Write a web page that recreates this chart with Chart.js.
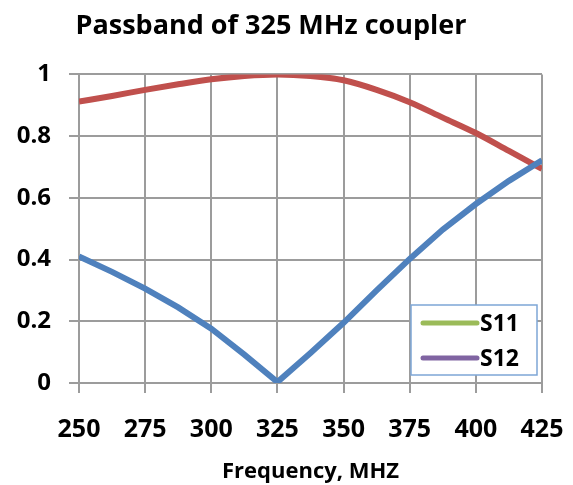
<!DOCTYPE html>
<html lang="en">
<head>
    <meta charset="UTF-8">
    <title>Passband of 325 MHz coupler</title>
    <script src="https://cdn.jsdelivr.net/npm/chart.js"></script>
    <style>
        body { margin: 0; background: #fff; }
        #wrap { width: 573px; height: 485px; }
    </style>
</head>
<body>
    <div id="wrap"><canvas id="passband" width="573" height="485"></canvas></div>

    <script>
        // frequency points (MHz)
        const freq = [250, 262.5, 275, 287.5, 300, 312.5, 325, 337.5, 350, 362.5, 375, 387.5, 400, 412.5, 425];
        // reflection (blue) and transmission (red)
        const s11 = [0.41, 0.36, 0.306, 0.245, 0.176, 0.092, 0.003, 0.097, 0.195, 0.30, 0.402, 0.497, 0.58, 0.655, 0.722];
        const s12 = [0.912, 0.93, 0.95, 0.968, 0.984, 0.995, 1.0, 0.995, 0.981, 0.95, 0.91, 0.86, 0.81, 0.752, 0.694];
        const xTicks = [250, 275, 300, 325, 350, 375, 400, 425];
        const yTicks = [0, 0.2, 0.4, 0.6, 0.8, 1];
        // legend entries as they appear in the picture
        const legendNames = ["S11", "S12"];
        const legendColors = ["#9BBB59", "#8064A2"];

        const FONT = "'Open Sans'";
        const GRID = "#9C9C9C";

        function pts(ys) {
            return freq.map((f, i) => ({ x: f, y: ys[i] }));
        }

        // boxed legend in the lower right corner of the plot
        const boxLegend = {
            id: "boxLegend",
            afterDatasetsDraw(chart) {
                let ctx = chart.ctx;
                let a = chart.chartArea;
                let w = 126, h = 70;
                let x = a.right - 5 - w;
                let y = a.bottom - 8 - h;
                ctx.save();
                ctx.fillStyle = "#fff";
                ctx.fillRect(x, y, w, h);
                ctx.strokeStyle = "#7EA6D6";
                ctx.lineWidth = 1.5;
                ctx.strokeRect(x, y, w, h);
                ctx.lineCap = "round";
                ctx.lineWidth = 5;
                ctx.font = "bold 23px " + FONT;
                ctx.textBaseline = "middle";
                for (let i = 0; i < legendNames.length; i++) {
                    let ly = y + 18 + i * 35;
                    ctx.strokeStyle = legendColors[i];
                    ctx.beginPath();
                    ctx.moveTo(x + 12, ly);
                    ctx.lineTo(x + 66, ly);
                    ctx.stroke();
                    ctx.fillStyle = "#000";
                    ctx.fillText(legendNames[i], x + 69, ly + 1);
                }
                ctx.restore();
            }
        };

        new Chart(document.getElementById("passband"), {
            type: "line",
            data: {
                datasets: [
                    {
                        label: "S11",
                        data: pts(s11),
                        borderColor: "#4F81BD",
                        borderWidth: 6,
                        pointRadius: 0,
                        tension: 0,
                        fill: false
                    },
                    {
                        label: "S12",
                        data: pts(s12),
                        borderColor: "#C0504D",
                        borderWidth: 6,
                        pointRadius: 0,
                        cubicInterpolationMode: "monotone",
                        fill: false
                    }
                ]
            },
            options: {
                responsive: false,
                animation: false,
                layout: { padding: { left: 0, right: 31, top: 0, bottom: 0 } },
                plugins: {
                    legend: { display: false },
                    tooltip: { enabled: false },
                    title: {
                        display: true,
                        text: "Passband of 325 MHz coupler",
                        color: "#000",
                        font: { family: FONT, size: 27, weight: "bold", lineHeight: 1.2 },
                        padding: { top: 10, bottom: 32 }
                    }
                },
                scales: {
                    x: {
                        type: "linear",
                        min: 250,
                        max: 425,
                        afterBuildTicks(scale) {
                            scale.ticks = xTicks.map(v => ({ value: v }));
                        },
                        afterFit(scale) {
                            scale.height = 102;
                            scale.paddingLeft = 0;
                            scale.paddingRight = 0;
                        },
                        grid: { color: GRID, lineWidth: 2, tickLength: 10 },
                        border: { color: GRID, width: 2 },
                        ticks: {
                            color: "#000",
                            padding: 22,
                            maxRotation: 0,
                            font: { family: FONT, size: 25, weight: "bold" }
                        },
                        title: {
                            display: true,
                            text: "Frequency, MHZ",
                            color: "#000",
                            font: { family: FONT, size: 22, weight: "bold", lineHeight: 1.2 },
                            padding: { top: 0, bottom: 0 }
                        }
                    },
                    y: {
                        min: 0,
                        max: 1,
                        afterBuildTicks(scale) {
                            scale.ticks = yTicks.map(v => ({ value: v }));
                        },
                        afterFit(scale) { scale.width = 79; },
                        grid: { color: GRID, lineWidth: 2, tickLength: 10 },
                        border: { color: GRID, width: 2 },
                        ticks: {
                            color: "#000",
                            padding: 18,
                            font: { family: FONT, size: 24, weight: "bold" },
                            callback: v => String(v)
                        }
                    }
                }
            },
            plugins: [boxLegend]
        });
    </script>
</body>
</html>
